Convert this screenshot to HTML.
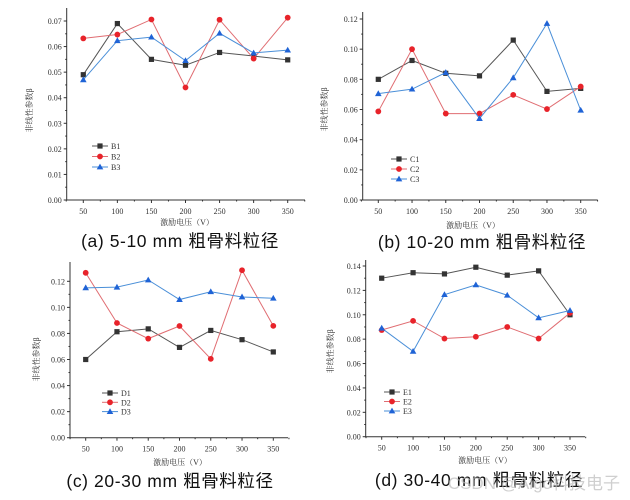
<!DOCTYPE html>
<html><head><meta charset="utf-8">
<style>
html,body{margin:0;padding:0;background:#fff;}
svg{display:block;}
.tk{font-family:"Liberation Serif","Noto Serif CJK SC",serif;font-size:8px;fill:#333;}
.cap{font-family:"Liberation Sans","Noto Sans CJK SC",sans-serif;font-size:17.5px;fill:#111;letter-spacing:0.6px;}
</style></head>
<body>
<svg id="chart" width="630" height="500" viewBox="0 0 630 500" xmlns="http://www.w3.org/2000/svg"></svg>
<script>
const categories = [50,100,150,200,250,300,350];
const seriesNamesA = ["B1","B2","B3"];
const seriesA1 = [0.049,0.069,0.055,0.0527,0.0577,0.0563,0.0548];
const seriesA2 = [0.0632,0.0647,0.0706,0.044,0.0705,0.0553,0.0713];
const seriesA3 = [0.047,0.0623,0.0637,0.0545,0.0652,0.0575,0.0586];
const ticksA = ["0.00","0.01","0.02","0.03","0.04","0.05","0.06","0.07"];
const seriesNamesB = ["C1","C2","C3"];
const seriesB1 = [0.080,0.0925,0.084,0.0823,0.106,0.072,0.074];
const seriesB2 = [0.0587,0.100,0.0573,0.0573,0.0697,0.0603,0.0752];
const seriesB3 = [0.0705,0.0735,0.0845,0.054,0.081,0.117,0.0595];
const ticksB = ["0.00","0.02","0.04","0.06","0.08","0.10","0.12"];
const seriesNamesC = ["D1","D2","D3"];
const seriesC1 = [0.060,0.0813,0.0835,0.0693,0.0823,0.0752,0.0658];
const seriesC2 = [0.1265,0.088,0.076,0.0857,0.0605,0.1285,0.0858];
const seriesC3 = [0.115,0.1155,0.121,0.106,0.112,0.108,0.107];
const ticksC = ["0.00","0.02","0.04","0.06","0.08","0.10","0.12"];
const seriesNamesD = ["E1","E2","E3"];
const seriesD1 = [0.130,0.1345,0.1335,0.139,0.1325,0.136,0.100];
const seriesD2 = [0.0875,0.095,0.0805,0.082,0.090,0.0805,0.1015];
const seriesD3 = [0.089,0.070,0.1165,0.1245,0.116,0.0975,0.1035];
const ticksD = ["0.00","0.02","0.04","0.06","0.08","0.10","0.12","0.14"];

const NS="http://www.w3.org/2000/svg";
const svg=document.getElementById('chart');
function mk(tag,attrs,parent){const e=document.createElementNS(NS,tag);for(const k in attrs)e.setAttribute(k,attrs[k]);(parent||svg).appendChild(e);return e;}
const colors=["#333333","#e8232a","#1f63d6"];
const lineColors=["#555555","#e06d72","#4a8fd8"];
function marker(g,shape,x,y,c){
  if(shape===0){const m=mk('rect',{x:x-2.6,y:y-2.6,width:5.2,height:5.2,fill:c},g);}
  else if(shape===1){const m=mk('circle',{cx:x,cy:y,r:2.9,fill:c},g);}
  else {const m=mk('polygon',{points:`${x},${y-3.4} ${x+3.3},${y+2.4} ${x-3.3},${y+2.4}`,fill:c},g);}
}
function panel(o){
  const g=mk('g',{});
  
  
  const maxV=parseFloat(o.ticks[o.ticks.length-1]);
  const yS=v=>o.y0-(v/maxV)*(o.y0-o.yTop);
  const xS=c=>o.x50+(c-50)/300*(o.x350-o.x50);
  const ax=mk('path',{d:`M${o.ax},${o.axTop}V${o.y0}H${o.axRight}`,stroke:"#333",fill:"none","stroke-width":1},g);
  
  const step=(o.y0-o.yTop)/(o.ticks.length-1);
  o.ticks.forEach((t,i)=>{
    const y=o.y0-i*step;
    mk('line',{x1:o.ax-3,x2:o.ax,y1:y,y2:y,stroke:"#333"},g);
    if(i<o.ticks.length-1) mk('line',{x1:o.ax-1.5,x2:o.ax,y1:y-step/2,y2:y-step/2,stroke:"#333"},g);
    const tx=mk('text',{x:o.ax-5,y:y+3,"text-anchor":"end",class:"tk"},g);tx.textContent=t;
    
  });
  const dx=(o.x350-o.x50)/6;
  categories.forEach(c=>{
    const x=xS(c);
    mk('line',{x1:x,x2:x,y1:o.y0,y2:o.y0+3,stroke:"#333"},g);
    mk('line',{x1:x+dx/2,x2:x+dx/2,y1:o.y0,y2:o.y0+1.5,stroke:"#333"},g);
    const tx=mk('text',{x:x,y:o.y0+14,"text-anchor":"middle",class:"tk"},g);tx.textContent=c;
    
  });
  mk('line',{x1:o.x50-dx/2,x2:o.x50-dx/2,y1:o.y0,y2:o.y0+1.5,stroke:"#333"},g);
  const xt=mk('text',{x:o.xtX,y:o.xtY,"text-anchor":"middle",class:"tk","font-size":"8.5"},g);xt.textContent="激励电压（V）";
  
  const cy=(o.y0+o.yTop)/2;
  const yt=mk('text',{x:o.ytX,y:cy,"text-anchor":"middle",class:"tk",transform:`rotate(-90 ${o.ytX} ${cy})`},g);yt.textContent="非线性参数β";
  
  o.series.forEach((s,si)=>{
    const pts=s.map((v,i)=>`${xS(categories[i])},${yS(v)}`).join(' ');
    const pl=mk('polyline',{points:pts,fill:"none",stroke:lineColors[si],"stroke-width":1},g);
    
    s.forEach((v,i)=>marker(g,si,xS(categories[i]),yS(v),colors[si]));
    const ly=o.legY+si*o.legDy;
    const lg=mk('g',{},g);
    
    mk('line',{x1:o.legX,x2:o.legX+16,y1:ly,y2:ly,stroke:lineColors[si]},lg);
    marker(lg,si,o.legX+8,ly,colors[si]);
    const lt=mk('text',{x:o.legX+19,y:ly+3,class:"tk","font-size":"9"},lg);lt.textContent=o.names[si];
  });
  const cp=mk('text',{x:o.capX,y:o.capY,"text-anchor":"middle",class:"cap"},g);cp.textContent=o.caption;
  
}
panel({name:'panel-a',ticks:ticksA,series:[seriesA1,seriesA2,seriesA3],names:seriesNamesA,ax:66.7,axTop:8,axRight:305,y0:200,yTop:21,x50:83.3,x350:287.7,xtX:187,xtY:225,ytX:32,legX:92,legY:146,legDy:10.5,capX:180,capY:247,caption:"(a)  5-10 mm 粗骨料粒径"});
panel({name:'panel-b',ticks:ticksB,series:[seriesB1,seriesB2,seriesB3],names:seriesNamesB,ax:362.7,axTop:12,axRight:597.7,y0:200,yTop:19,x50:378.3,x350:580.7,xtX:473,xtY:228,ytX:327,legX:391,legY:159,legDy:10,capX:482,capY:248,caption:"(b)  10-20 mm 粗骨料粒径"});
panel({name:'panel-c',ticks:ticksC,series:[seriesC1,seriesC2,seriesC3],names:seriesNamesC,ax:70,axTop:262,axRight:288,y0:437.7,yTop:281.3,x50:85.7,x350:273.3,xtX:180,xtY:465,ytX:39,legX:102,legY:393,legDy:9.3,capX:170,capY:487,caption:"(c)  20-30 mm 粗骨料粒径"});
panel({name:'panel-d',ticks:ticksD,series:[seriesD1,seriesD2,seriesD3],names:seriesNamesD,ax:365.7,axTop:260,axRight:585,y0:436.7,yTop:266,x50:381.7,x350:570,xtX:485,xtY:463,ytX:333,legX:384,legY:392,legDy:9.5,capX:479,capY:486,caption:"(d)  30-40 mm 粗骨料粒径"});
const wm=mk('text',{x:620,y:489,"text-anchor":"end",fill:"#bbbbbb","fill-opacity":"0.7",style:"font-family:'Liberation Sans','Noto Sans CJK SC',sans-serif;font-size:17px"});
wm.textContent="CSDN @Aigo科技电子";


</script>
</body></html>
